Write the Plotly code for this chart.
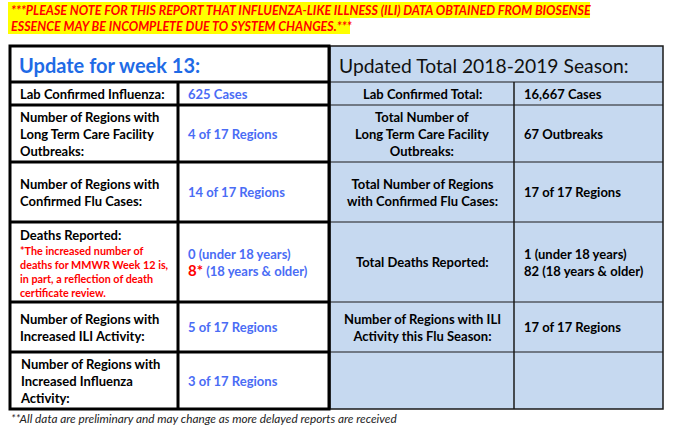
import plotly.graph_objects as go

# Data
banner_lines = [
    "***PLEASE NOTE FOR THIS REPORT THAT INFLUENZA-LIKE ILLNESS (ILI) DATA OBTAINED FROM BIOSENSE",
    "ESSENCE MAY BE INCOMPLETE DUE TO SYSTEM CHANGES.***",
]
week_title = "Update for week 13:"
season_title = "Updated Total 2018-2019 Season:"
week_labels = [
    "Lab Confirmed Influenza:",
    "Number of Regions with<br>Long Term Care Facility<br>Outbreaks:",
    "Number of Regions with<br>Confirmed Flu Cases:",
    "Deaths Reported:",
    "Number of Regions with<br>Increased ILI Activity:",
    "Number of Regions with<br>Increased Influenza<br>Activity:",
]
week_values = [
    "625 Cases",
    "4 of 17 Regions",
    "14 of 17 Regions",
    "0 (under 18 years)<br><span style='color:#ff0000;font-size:15px'>8*</span> (18 years &amp; older)",
    "5 of 17 Regions",
    "3 of 17 Regions",
]
deaths_note = "*The increased number of<br>deaths for MMWR Week 12 is,<br>in part, a reflection of death<br>certificate review."
season_labels = [
    "Lab Confirmed Total:",
    "Total Number of<br>Long Term Care Facility<br>Outbreaks:",
    "Total Number of Regions<br>with Confirmed Flu Cases:",
    "Total Deaths Reported:",
    "Number of Regions with ILI<br>Activity this Flu Season:",
    "",
]
season_values = [
    "16,667 Cases",
    "67 Outbreaks",
    "17 of 17 Regions",
    "1 (under 18 years)<br>82 (18 years &amp; older)",
    "17 of 17 Regions",
    "",
]
footnote = "**All data are preliminary and may change as more delayed reports are received"

# Layout geometry (pixel-like data units)
row_edges = [46, 82, 105, 162, 222, 302, 352, 409]
left_cols = [10, 178, 329]
right_cols = [330, 514, 663]
FONT = "Lato"
BLUE_TITLE = "#1f6be6"
BLUE_VAL = "#4a6cf5"
FILL = "#c6d9f0"

shapes = []
annotations = []

# Banner highlight
banner_x1 = [590, 350]
for i, line in enumerate(banner_lines):
    y0 = 2 + i * 16
    shapes.append(dict(type="rect", x0=8, x1=banner_x1[i], y0=y0, y1=y0 + 16,
                       fillcolor="#ffff00", line=dict(width=0), layer="below"))
    annotations.append(dict(x=9, y=y0 + 8, text=line, xanchor="left", yanchor="middle",
                            showarrow=False,
                            font=dict(family=FONT, size=12.5, color="#ff0000",
                                      style="italic", weight="bold")))

# Right table (blue) - fill and thin grid
shapes.append(dict(type="rect", x0=right_cols[0], x1=right_cols[2], y0=row_edges[0],
                   y1=row_edges[-1], fillcolor=FILL, line=dict(color="#1a1a1a", width=1.5)))
for y in row_edges[1:-1]:
    shapes.append(dict(type="line", x0=right_cols[0], x1=right_cols[2], y0=y, y1=y,
                       line=dict(color="#1a1a1a", width=1.2)))
shapes.append(dict(type="line", x0=right_cols[1], x1=right_cols[1], y0=row_edges[1],
                   y1=row_edges[-1], line=dict(color="#1a1a1a", width=1.5)))

# Left table (white) - thick black grid
shapes.append(dict(type="rect", x0=left_cols[0], x1=left_cols[2], y0=row_edges[0],
                   y1=row_edges[-1], fillcolor="white", line=dict(color="black", width=3)))
for y in row_edges[1:-1]:
    shapes.append(dict(type="line", x0=left_cols[0], x1=left_cols[2], y0=y, y1=y,
                       line=dict(color="black", width=3)))
shapes.append(dict(type="line", x0=left_cols[1], x1=left_cols[1], y0=row_edges[1],
                   y1=row_edges[-1], line=dict(color="black", width=3)))

# Titles
annotations.append(dict(x=left_cols[0] + 7, y=(row_edges[0] + row_edges[1]) / 2 + 1,
                        text=week_title, xanchor="left", yanchor="middle", showarrow=False,
                        font=dict(family=FONT, size=20, color=BLUE_TITLE, weight="bold")))
annotations.append(dict(x=right_cols[0] + 7, y=(row_edges[0] + row_edges[1]) / 2 + 1,
                        text=season_title, xanchor="left", yanchor="middle", showarrow=False,
                        font=dict(family=FONT, size=19.3, color="#111111")))

# Rows
for i in range(len(week_labels)):
    top, bot = row_edges[i + 1], row_edges[i + 2]
    mid = (top + bot) / 2
    if i == 3:
        annotations.append(dict(x=left_cols[0] + 8, y=top + 3, text=week_labels[i],
                                xanchor="left", yanchor="top", showarrow=False,
                                font=dict(family=FONT, size=13, color="black", weight="bold")))
        annotations.append(dict(x=left_cols[0] + 8, y=top + 20, text=deaths_note,
                                xanchor="left", yanchor="top", align="left", showarrow=False,
                                font=dict(family=FONT, size=10.8, color="#ff0000", weight="bold")))
    else:
        annotations.append(dict(x=left_cols[0] + 8, y=mid, text=week_labels[i],
                                xanchor="left", yanchor="middle", align="left", showarrow=False,
                                font=dict(family=FONT, size=13, color="black", weight="bold")))
    annotations.append(dict(x=left_cols[1] + 8, y=mid, text=week_values[i],
                            xanchor="left", yanchor="middle", align="left", showarrow=False,
                            font=dict(family=FONT, size=13, color=BLUE_VAL, weight="bold")))
    if season_labels[i]:
        annotations.append(dict(x=(right_cols[0] + right_cols[1]) / 2, y=mid,
                                text=season_labels[i], xanchor="center", yanchor="middle",
                                align="center", showarrow=False,
                                font=dict(family=FONT, size=13, color="black", weight="bold")))
    if season_values[i]:
        annotations.append(dict(x=right_cols[1] + 8, y=mid, text=season_values[i],
                                xanchor="left", yanchor="middle", align="left", showarrow=False,
                                font=dict(family=FONT, size=13, color="black", weight="bold")))

# Footnote
annotations.append(dict(x=9, y=418, text=footnote, xanchor="left", yanchor="middle",
                        showarrow=False,
                        font=dict(family=FONT, size=11.8, color="#222222", style="italic")))

fig = go.Figure()
fig.update_layout(
    width=674, height=429,
    margin=dict(l=0, r=0, t=0, b=0),
    paper_bgcolor="white", plot_bgcolor="white",
    xaxis=dict(range=[0, 674], visible=False, fixedrange=True),
    yaxis=dict(range=[429, 0], visible=False, fixedrange=True),
    shapes=shapes, annotations=annotations,
    showlegend=False,
)

# drop the default 8px body margin so the figure fills the window
fig.write_html("out.html", config={"displayModeBar": False},
               post_script="document.body.style.margin='0';")
